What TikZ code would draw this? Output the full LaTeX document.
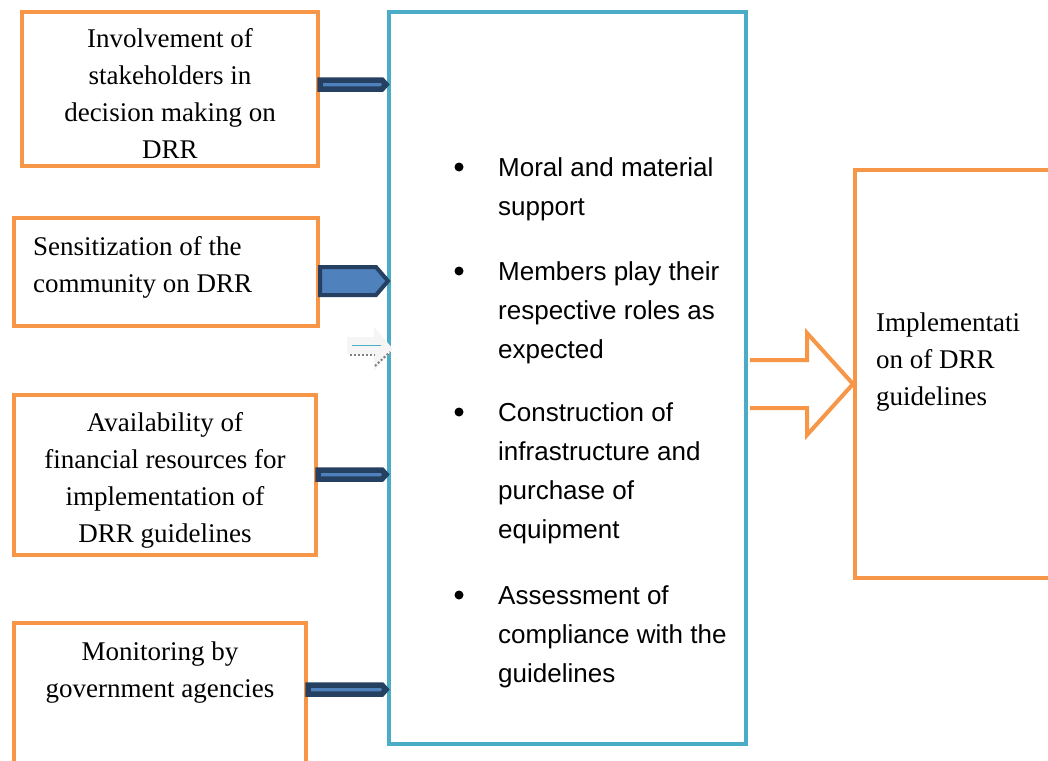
\documentclass[tikz,border=0pt]{standalone}
\usepackage{fontspec}
\setmainfont{Liberation Serif}
\setsansfont{Liberation Sans}
\usepackage{tikz}
\definecolor{drrorange}{RGB}{247,150,70}
\definecolor{drrcyan}{RGB}{75,172,198}
\definecolor{drrnavy}{RGB}{37,64,97}
\definecolor{drrblue}{RGB}{79,129,189}

\begin{document}
\begin{tikzpicture}[x=1pt,y=-1pt,
    obox/.style={draw=drrorange,line width=4pt,rectangle,inner sep=0pt},
    cbox/.style={draw=drrcyan,line width=4pt,rectangle,inner sep=0pt},
    serif/.style={inner sep=0pt,font=\fontsize{27}{37}\selectfont},
    sans/.style={inner sep=0pt,anchor=north west,align=left,font=\sffamily\fontsize{26}{39}\selectfont},
    bullet/.style={circle,fill=black,inner sep=0pt,minimum size=9pt},
    thinarr/.style={draw=drrnavy,fill=drrblue,line width=5.5pt,line join=miter},
    widearr/.style={draw=drrnavy,fill=drrblue,line width=4pt,line join=miter},
    bigarr/.style={draw=drrorange,fill=white,line width=4pt,line join=miter}]
\useasboundingbox (0,0) rectangle (1048,760);
% boxes
\node[obox,minimum width=296pt,minimum height=154pt] (inv) at (170,89) {};
\node[obox,minimum width=304pt,minimum height=108pt] (sens) at (166,272) {};
\node[obox,minimum width=302pt,minimum height=160pt] (fin) at (165,475) {};
\node[obox,minimum width=292pt,minimum height=177pt] (mon) at (160,711.5) {};
\node[obox,minimum width=215pt,minimum height=408pt] (impl) at (962.5,374) {};
\node[cbox,minimum width=357pt,minimum height=732pt] (sup) at (567.5,378) {};
% big arrow to the outcome
\coordinate (o1) at ([xshift=2pt]sup.east |- 0,360);
\coordinate (o2) at (impl.west |- 0,384);
\draw[bigarr] (o1) -- ([xshift=-46pt]o2 |- o1) -- ([xshift=-46pt]o2 |- 0,333) -- (o2)
    -- ([xshift=-46pt]o2 |- 0,435) -- ([xshift=-46pt]o2 |- 0,408) -- (o1 |- 0,408);
% texts
\node[serif,anchor=north,align=center] (invtxt) at (170,28)
    {Involvement of\\stakeholders in\\decision making on\\DRR};
\node[serif,anchor=north west,align=left] (senstxt) at (33,236)
    {Sensitization of the\\community on DRR};
\node[serif,anchor=north,align=center] (fintxt) at (165,412)
    {Availability of\\financial resources for\\implementation of\\DRR guidelines};
\node[serif,anchor=north,align=center] (montxt) at (160,642)
    {Monitoring by\\government agencies};
\node[serif,anchor=north west,align=left] (impltxt) at (876,313)
    {Implementati\\on of DRR\\guidelines};
\node[bullet] (b1) at (459,167) {};
\node[bullet] (b2) at (459,271) {};
\node[bullet] (b3) at (459,412) {};
\node[bullet] (b4) at (459,595) {};
\node[sans] (item1) at (498,157) {Moral and material\\support};
\node[sans] (item2) at (498,261) {Members play their\\respective roles as\\expected};
\node[sans] (item3) at (498,402) {Construction of\\infrastructure and\\purchase of\\equipment};
\node[sans] (item4) at (498,585) {Assessment of\\compliance with the\\guidelines};
% arrows into the centre box
\coordinate (a1) at (inv.east |- 0,84.5);
\coordinate (e1) at ([xshift=-1pt]sup.west |- a1);
\draw[thinarr] ([yshift=4.5pt]a1) -- ([xshift=-4pt,yshift=4.5pt]e1) -- (e1)
    -- ([xshift=-4pt,yshift=-4.5pt]e1) -- ([yshift=-4.5pt]a1) -- cycle;
\coordinate (a2) at (sens.east |- 0,281);
\coordinate (e2) at ([xshift=1pt]sup.west |- a2);
\draw[widearr] ([yshift=14pt]a2) -- ([xshift=-12pt,yshift=14pt]e2) -- (e2)
    -- ([xshift=-12pt,yshift=-14pt]e2) -- ([yshift=-14pt]a2) -- cycle;
\coordinate (a3) at (fin.east |- 0,474.5);
\coordinate (e3) at ([xshift=-1pt]sup.west |- a3);
\draw[thinarr] ([yshift=4.5pt]a3) -- ([xshift=-4pt,yshift=4.5pt]e3) -- (e3)
    -- ([xshift=-4pt,yshift=-4.5pt]e3) -- ([yshift=-4.5pt]a3) -- cycle;
\coordinate (a4) at (mon.east |- 0,689.5);
\coordinate (e4) at ([xshift=-1pt]sup.west |- a4);
\draw[thinarr] ([yshift=4.5pt]a4) -- ([xshift=-4pt,yshift=4.5pt]e4) -- (e4)
    -- ([xshift=-4pt,yshift=-4.5pt]e4) -- ([yshift=-4.5pt]a4) -- cycle;
% faint arrow
\fill[gray!8] (347,337) -- (374,337) -- (374,327) -- (393,349) -- (374,371) -- (374,354) -- (347,354) -- cycle;
\draw[drrcyan,line width=1pt] (352,345) -- (381,345);
\draw[gray,line width=2pt,dotted] (350,355) -- (375,355);
\draw[gray,line width=2pt,dotted] (375,366) -- (390,352);
\end{tikzpicture}
\end{document}
